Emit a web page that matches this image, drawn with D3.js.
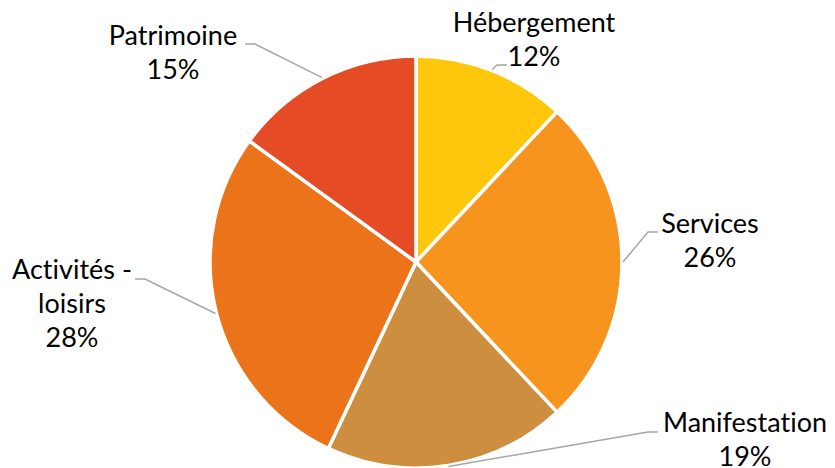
<!DOCTYPE html>
<html><head><meta charset="utf-8">
<script src="https://cdn.jsdelivr.net/npm/d3@7/dist/d3.min.js"></script>
<style>body{margin:0;background:#fff;}svg{display:block;}text{font-variant-ligatures:none;}</style>
</head><body>
<script>
const categories = ["Hébergement", "Services", "Manifestation", "Activités - loisirs", "Patrimoine"];
const values = [12, 26, 19, 28, 15];
const colors = ["#FEC70C", "#F7941E", "#CE8E40", "#EB7319", "#E54B25"];
// label layout: text lines, anchor center x, first baseline y, bend point
const labelLines = [["Hébergement"], ["Services"], ["Manifestation"], ["Activités -", "loisirs"], ["Patrimoine"]];
const labelPos = [[534, 32], [710, 233], [745, 432], [72, 279], [173, 45]];
const leaderBend = [[[497, 65], [507, 65]], [[648, 232], [658, 232]], [[648, 432], [658, 432]], [[145, 279], [135, 279]], [[255, 44], [245, 44]]];

const W = 835, H = 468;
const cx = 416, cy = 262, R = 206;
const svg = d3.select("body").append("svg").attr("width", W).attr("height", H);
const g = svg.append("g").attr("transform", `translate(${cx},${cy})`);
const pie = d3.pie().sort(null).value(d => d)(values);
const arc = d3.arc().innerRadius(0).outerRadius(R);
g.selectAll("path.slice").data(pie).join("path")
  .attr("class", "slice")
  .attr("d", arc)
  .attr("fill", (d, i) => colors[i])
  .attr("stroke", "#fff").attr("stroke-width", 3.5).attr("stroke-linejoin", "round");

const fontFamily = "Lato, 'Open Sans', sans-serif";
const fs = 27, lh = 34;
pie.forEach((d, i) => {
  const a = (d.startAngle + d.endAngle) / 2;
  const p0 = [cx + (R + 1) * Math.sin(a), cy - (R + 1) * Math.cos(a)];
  const pts = [p0, ...leaderBend[i]];
  svg.append("path").attr("d", d3.line()(pts)).attr("fill", "none")
    .attr("stroke", "#A6A6A6").attr("stroke-width", 1.5);
  const lines = [...labelLines[i], Math.round(d.value) + "%"];
  const t = svg.append("text").attr("font-family", fontFamily).attr("font-size", fs)
    .attr("fill", "#000").attr("text-anchor", "middle");
  lines.forEach((l, k) => {
    t.append("tspan").attr("x", labelPos[i][0]).attr("y", labelPos[i][1] + k * lh).text(l);
  });
});
</script>
</body></html>
